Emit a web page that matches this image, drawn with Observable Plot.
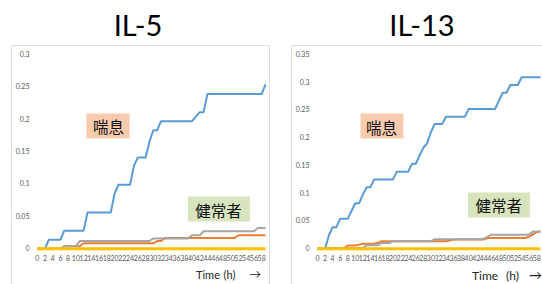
<!DOCTYPE html>
<html><head><meta charset="utf-8">
<script src="https://cdn.jsdelivr.net/npm/d3@7"></script>
<script src="https://cdn.jsdelivr.net/npm/@observablehq/plot@0.6"></script>
<style>
html,body{margin:0;padding:0;background:#fff}
body{width:542px;height:284px;overflow:hidden;position:relative;font-family:Lato,"Liberation Sans",sans-serif}
.panel{position:absolute;top:45px;height:260px;border:1.5px solid #dedede;box-sizing:border-box}
.title{position:absolute;font-family:Lato,sans-serif;font-size:29px;line-height:29px;color:#000;transform:translateX(-50%);white-space:nowrap}
.chart{position:absolute;top:46px}
.lab{position:absolute;font-family:Lato,sans-serif;color:#262626;white-space:nowrap;line-height:1}
.note{position:absolute;transform:translate(-50%,-50%);height:25px;display:flex;align-items:center;justify-content:center;font-family:"Noto Sans CJK JP",sans-serif;font-size:15.5px;color:#111}
</style>
</head><body>
<div class="panel" style="left:11px;width:259px"></div>
<div class="panel" style="left:291px;width:270px"></div>
<div class="title" style="left:138px;top:10px">IL-5</div>
<div class="title" style="left:422px;top:10px">IL-13</div>
<div id="c1" class="chart" style="left:11px"></div>
<div id="c2" class="chart" style="left:291px"></div>
<div class="lab" style="left:196px;top:269px;font-size:11px">Time</div>
<div class="lab" style="left:223.5px;top:269px;font-size:11px">(h)</div>
<div class="lab" style="left:249px;top:268px;font-size:12px">→</div>
<div class="lab" style="left:472px;top:270px;font-size:12px">Time</div>
<div class="lab" style="left:506px;top:270px;font-size:12px">(h)</div>
<div class="lab" style="left:529px;top:269px;font-size:13px">→</div>
<script>
// hours 0..59
const hours = [0,1,2,3,4,5,6,7,8,9,10,11,12,13,14,15,16,17,18,19,20,21,22,23,24,25,26,27,28,29,
               30,31,32,33,34,35,36,37,38,39,40,41,42,43,44,45,46,47,48,49,50,51,52,53,54,55,56,57,58,59];
const xTicks = [0,2,4,6,8,10,12,14,16,18,20,22,24,26,28,30,32,34,36,38,40,42,44,46,48,50,52,54,56,58];
const yTicksIL5 = [0,0.05,0.1,0.15,0.2,0.25,0.3];
const yTicksIL13 = [0,0.05,0.1,0.15,0.2,0.25,0.3,0.35];
const seriesNames = ["s1","s2","s3","s4"];
const seriesColors = ["#5B9BD5","#ED7D31","#A5A5A5","#FFC000"];

// IL-5
const il5_s1 = [0,0,0,0.014,0.014,0.014,0.014,0.028,0.028,0.028,
  0.028,0.028,0.028,0.056,0.056,0.056,0.056,0.056,0.056,0.056,
  0.085,0.099,0.099,0.099,0.099,0.128,0.141,0.141,0.141,0.165,
  0.183,0.183,0.197,0.197,0.197,0.197,0.197,0.197,0.197,0.197,
  0.197,0.204,0.211,0.211,0.239,0.239,0.239,0.239,0.239,0.239,
  0.239,0.239,0.239,0.239,0.239,0.239,0.239,0.239,0.239,0.254];
const il5_s2 = [0,0,0,0,0,0,0,0.004,0.004,0.004,
  0.004,0.004,0.0085,0.0085,0.0085,0.0085,0.0085,0.0085,0.0085,0.0085,
  0.0085,0.0085,0.0085,0.0085,0.0085,0.0085,0.0085,0.0085,0.0085,0.0085,
  0.0085,0.012,0.012,0.0165,0.0165,0.0165,0.0165,0.0165,0.0165,0.0165,
  0.0165,0.0165,0.0165,0.0165,0.0165,0.0165,0.0165,0.0165,0.0165,0.0165,
  0.0165,0.0165,0.021,0.021,0.021,0.021,0.021,0.021,0.021,0.021];
const il5_s3 = [0,0,0,0,0,0,0,0.004,0.004,0.004,
  0.004,0.012,0.012,0.012,0.012,0.012,0.012,0.012,0.012,0.012,
  0.012,0.012,0.012,0.012,0.012,0.012,0.012,0.012,0.012,0.012,
  0.016,0.016,0.016,0.016,0.016,0.016,0.016,0.016,0.016,0.016,
  0.021,0.021,0.021,0.027,0.027,0.027,0.027,0.027,0.027,0.027,
  0.027,0.027,0.027,0.027,0.027,0.027,0.027,0.032,0.032,0.032];
const il5_s4 = [0,0,0,0,0,0,0,0,0,0,0,0,0,0,0,0,0,0,0,0,0,0,0,0,0,0,0,0,0,0,
  0,0,0,0,0,0,0,0,0,0,0,0,0,0,0,0,0,0,0,0,0,0,0,0,0,0,0,0,0,0];

// IL-13
const il13_s1 = [0,0,0,0.024,0.039,0.039,0.054,0.054,0.054,0.068,
  0.082,0.082,0.098,0.111,0.111,0.125,0.125,0.125,0.125,0.125,
  0.125,0.139,0.139,0.139,0.139,0.153,0.153,0.168,0.182,0.19,
  0.21,0.225,0.225,0.225,0.238,0.238,0.238,0.238,0.238,0.238,
  0.252,0.252,0.252,0.252,0.252,0.252,0.252,0.252,0.267,0.281,
  0.281,0.295,0.295,0.295,0.309,0.309,0.309,0.309,0.309,0.309];
const il13_s2 = [0,0,0.0015,0.0015,0.0015,0.0015,0.0015,0.0015,0.006,0.006,
  0.006,0.0075,0.009,0.009,0.009,0.009,0.011,0.0137,0.0137,0.0137,
  0.0137,0.0137,0.0137,0.0137,0.0137,0.0137,0.0137,0.0137,0.0137,0.0137,
  0.0137,0.0137,0.0137,0.0137,0.0137,0.015,0.0168,0.0168,0.0168,0.0168,
  0.0168,0.0168,0.0168,0.0168,0.0168,0.0195,0.0195,0.0195,0.0195,0.0195,
  0.0195,0.0195,0.0195,0.0195,0.0195,0.0195,0.022,0.026,0.03,0.031];
const il13_s3 = [0,0,0.0015,0.0015,0.0015,0.0015,0.0015,0.0015,0.0015,0.0015,
  0.0015,0.0015,0.0015,0.0065,0.0065,0.0065,0.0065,0.0105,0.0105,0.0105,
  0.0137,0.0137,0.0137,0.0137,0.0137,0.0137,0.0137,0.0137,0.0137,0.0137,
  0.0137,0.0172,0.0172,0.0172,0.0172,0.0172,0.0172,0.0172,0.0172,0.0172,
  0.0172,0.0172,0.0172,0.0172,0.018,0.022,0.0255,0.0255,0.0255,0.0255,
  0.0255,0.0255,0.0255,0.0255,0.0255,0.0255,0.0255,0.031,0.031,0.031];
const il13_s4 = [0,0,0,0,0,0,0,0,0,0,0,0,0,0,0,0,0,0,0,0,0,0,0,0,0,0,0,0,0,0,
  0,0,0,0,0,0,0,0,0,0,0,0,0,0,0,0,0,0,0,0,0,0,0,0,0,0,0,0,0,0];

// annotations (label, hour, value)
const notes5 = [{label:"喘息", h:18.55, v:0.189, bg:"#F8CBAD", w:43},
                {label:"健常者", h:47, v:0.0604, bg:"#D7E4BD", w:62}];
const notes13 = [{label:"喘息", h:17.1, v:0.2203, bg:"#F8CBAD", w:43},
                 {label:"健常者", h:48.1, v:0.0784, bg:"#D7E4BD", w:62}];

function panel(el, left, cfg) {
  const series = [cfg.s1, cfg.s2, cfg.s3, cfg.s4];
  const widths = [2, 2, 2, 3];
  const rows = [];
  series.forEach((vals, k) => vals.forEach((v, i) => rows.push({hour: hours[i], value: v, series: seriesNames[k]})));
  const chart = Plot.plot({
    width: cfg.width, height: 238,
    marginLeft: cfg.ml, marginRight: cfg.mr, marginTop: 8, marginBottom: 35.7,
    style: {fontFamily: "Lato, sans-serif", fontSize: "7px", color: "#595959", background: "transparent", overflow: "visible"},
    x: {domain: [0, 59], ticks: xTicks, tickSize: 0, tickPadding: 7.5, label: null, tickFormat: d => String(d)},
    y: {domain: [0, cfg.ymax], ticks: cfg.yTicks, tickSize: 0, tickPadding: cfg.yPad, label: null, tickFormat: d => String(d)},
    color: {domain: seriesNames, range: seriesColors},
    marks: seriesNames.map((name, k) =>
      Plot.line(rows.filter(r => r.series === name), {
        x: "hour", y: "value", stroke: "series", strokeWidth: widths[k], strokeLinejoin: "round", strokeLinecap: "butt"
      }))
  });
  document.getElementById(el).appendChild(chart);
  const xs = chart.scale("x"), ys = chart.scale("y");
  cfg.notes.forEach(n => {
    const d = document.createElement("div");
    d.className = "note";
    d.textContent = n.label;
    d.style.background = n.bg;
    d.style.width = n.w + "px";
    d.style.left = (left + xs.apply(n.h)) + "px";
    d.style.top = (46 + ys.apply(n.v)) + "px";
    document.body.appendChild(d);
  });
}

panel("c1", 11, {s1: il5_s1, s2: il5_s2, s3: il5_s3, s4: il5_s4, width: 259, ml: 25.7, mr: 5, ymax: 0.3, yTicks: yTicksIL5, yPad: 7.7, notes: notes5});
panel("c2", 291, {s1: il13_s1, s2: il13_s2, s3: il13_s3, s4: il13_s4, width: 251, ml: 26, mr: 2, ymax: 0.35, yTicks: yTicksIL13, yPad: 8, notes: notes13});
</script>
</body></html>
